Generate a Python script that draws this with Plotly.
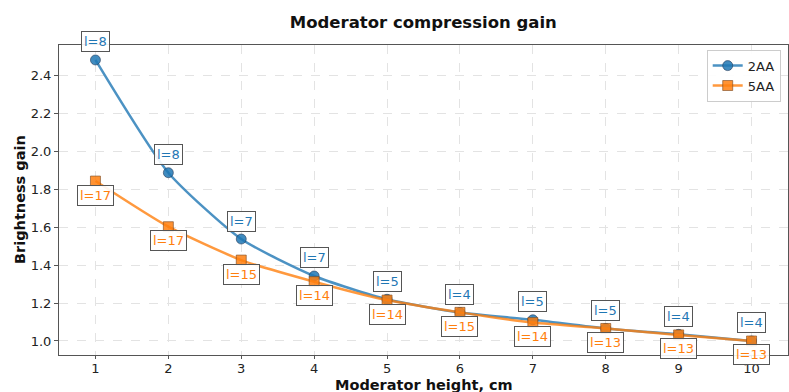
import plotly.graph_objects as go

heights = [1, 2, 3, 4, 5, 6, 7, 8, 9, 10]
gain_2aa = [2.483, 1.888, 1.538, 1.343, 1.220, 1.150, 1.112, 1.066, 1.035, 1.000]
gain_5aa = [1.844, 1.603, 1.427, 1.313, 1.216, 1.151, 1.097, 1.066, 1.032, 1.000]
labels_2aa = ["l=8", "l=8", "l=7", "l=7", "l=5", "l=4", "l=5", "l=5", "l=4", "l=4"]
labels_5aa = ["l=17", "l=17", "l=15", "l=14", "l=14", "l=15", "l=14", "l=13", "l=13", "l=13"]
yticks = [1.0, 1.2, 1.4, 1.6, 1.8, 2.0, 2.2, 2.4]

BLUE = "#1f77b4"
ORANGE = "#ff7f0e"
FONT = "DejaVu Sans"

fig = go.Figure()
fig.add_trace(go.Scatter(
    x=heights, y=gain_2aa, name="2AA", mode="lines+markers",
    line=dict(color="rgba(31,119,180,0.8)", width=2.5, shape="spline", smoothing=0.6),
    marker=dict(symbol="circle", size=10, color="rgba(31,119,180,0.85)",
                line=dict(color="rgba(40,60,90,0.6)", width=1)),
))
fig.add_trace(go.Scatter(
    x=heights, y=gain_5aa, name="5AA", mode="lines+markers",
    line=dict(color="rgba(255,127,14,0.8)", width=2.5, shape="spline", smoothing=0.6),
    marker=dict(symbol="square", size=10, color="rgba(255,127,14,0.85)",
                line=dict(color="rgba(120,70,30,0.6)", width=1)),
))

annotations = []
for x, y, t in zip(heights, gain_2aa, labels_2aa):
    annotations.append(dict(
        x=x, y=y, text=t, showarrow=False, yshift=18,
        font=dict(family=FONT, size=13, color=BLUE),
        bgcolor="rgba(255,255,255,0.9)", bordercolor="#555555", borderwidth=1, borderpad=2,
    ))
for x, y, t in zip(heights, gain_5aa, labels_5aa):
    annotations.append(dict(
        x=x, y=y, text=t, showarrow=False, yshift=-14,
        font=dict(family=FONT, size=13, color=ORANGE),
        bgcolor="rgba(255,255,255,0.9)", bordercolor="#555555", borderwidth=1, borderpad=2,
    ))
annotations.append(dict(
    x=0, y=0.5, xref="paper", yref="paper", xshift=-39, textangle=-90,
    text="<b>Brightness gain</b>", showarrow=False, xanchor="center", yanchor="middle",
    font=dict(family=FONT, size=14.5, color="#111111"),
))
annotations.append(dict(
    x=0.5, y=0, xref="paper", yref="paper", yshift=-30,
    text="<b>Moderator height, cm</b>", showarrow=False, xanchor="center", yanchor="middle",
    font=dict(family=FONT, size=14.5, color="#111111"),
))

fig.update_layout(
    width=789, height=392,
    margin=dict(l=59, r=1, t=45, b=37),
    paper_bgcolor="white", plot_bgcolor="white",
    font=dict(family=FONT, size=13, color="#222222"),
    title=dict(text="<b>Moderator compression gain</b>", x=0.5365, xanchor="center",
               y=1 - 22 / 392, yanchor="middle", yref="container",
               font=dict(family=FONT, size=16.5, color="#111111")),
    showlegend=True,
    legend=dict(x=0.99, y=0.985, xanchor="right", yanchor="top",
                bgcolor="rgba(255,255,255,0.9)", bordercolor="#cccccc", borderwidth=1,
                font=dict(family=FONT, size=13), itemwidth=30, tracegroupgap=0),
    annotations=annotations,
)
fig.update_xaxes(
    range=[0.5, 10.5], tickvals=heights, ticktext=[str(h) for h in heights],
    showgrid=True, gridcolor="#e3e3e3", griddash="dash", gridwidth=1,
    showline=True, linecolor="#555555", linewidth=1, mirror=True,
    ticks="outside", ticklen=3, tickcolor="#555555", zeroline=False,
    ticklabelstandoff=-2,
    tickfont=dict(family=FONT, size=13, color="#222222"),
)
fig.update_yaxes(
    range=[0.926, 2.562], tickvals=yticks, ticktext=[f"{v:.1f}" for v in yticks],
    showgrid=True, gridcolor="#e3e3e3", griddash="dash", gridwidth=1,
    showline=True, linecolor="#555555", linewidth=1, mirror=True,
    ticks="outside", ticklen=4, tickcolor="#555555", zeroline=False,
    tickfont=dict(family=FONT, size=13, color="#222222"),
)

fig.write_html("out.html", config={"displayModeBar": False},
               post_script="document.body.style.margin='0';document.body.style.overflow='hidden';")
